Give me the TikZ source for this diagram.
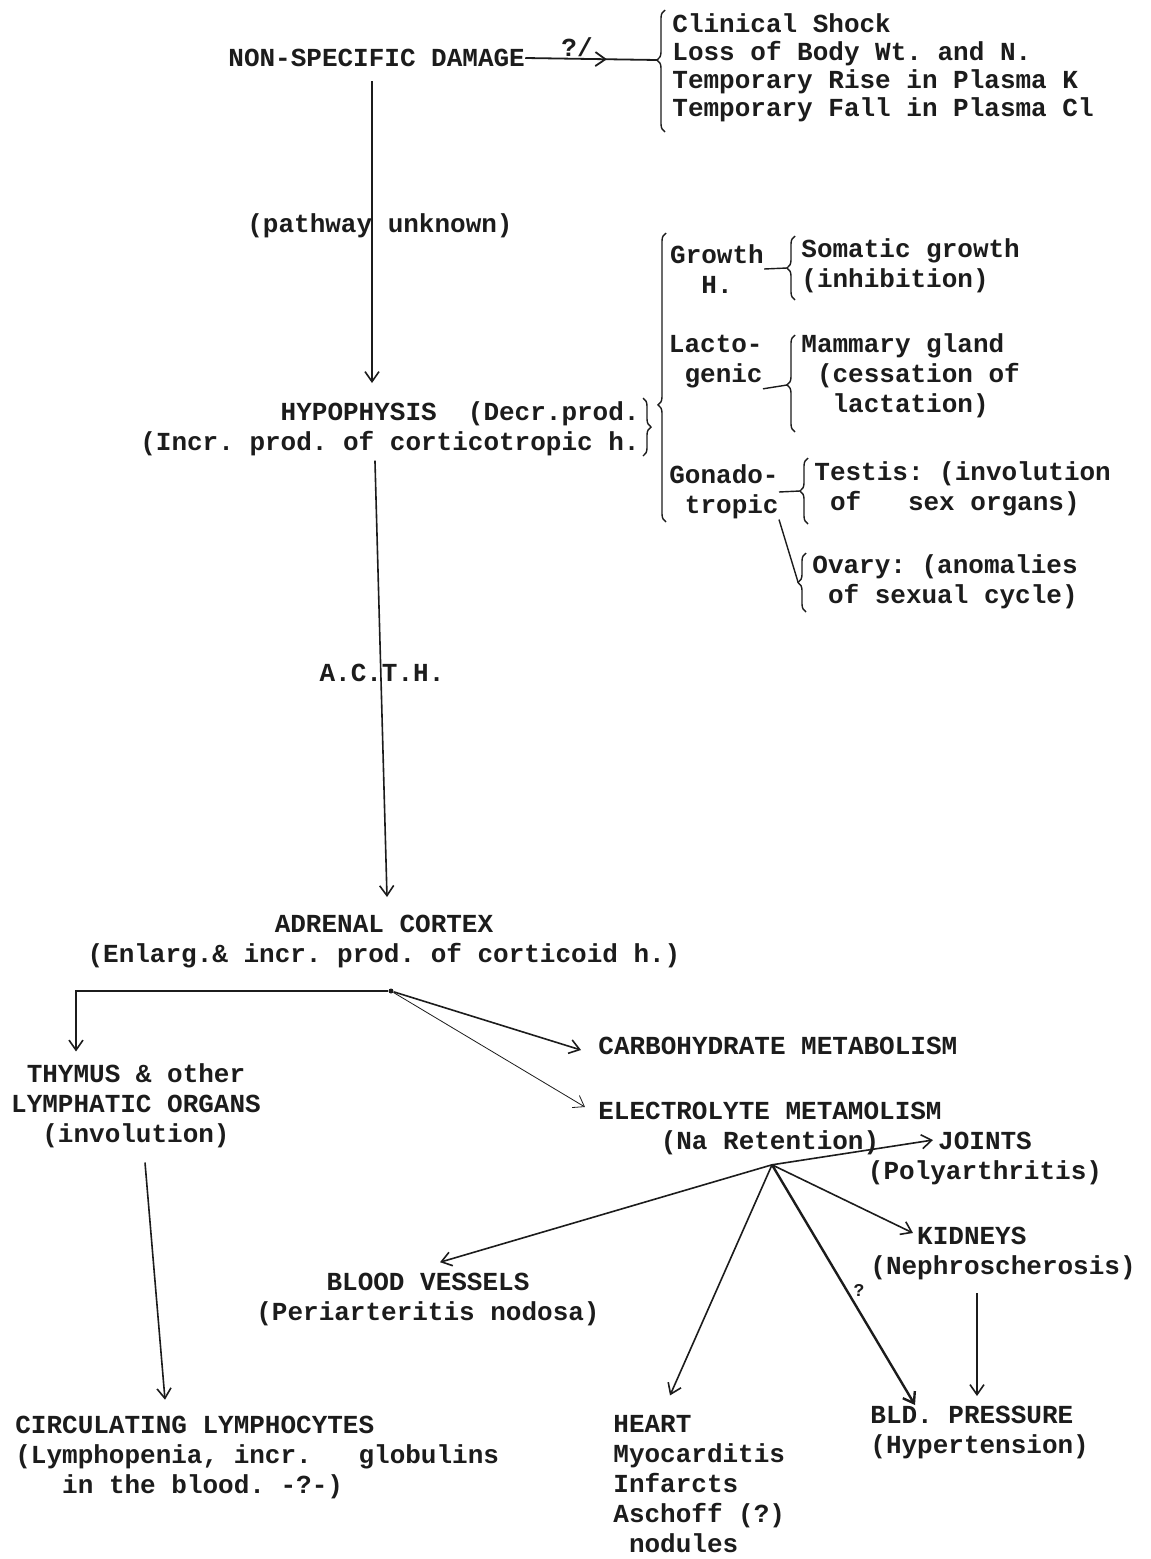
\documentclass[tikz,border=0pt]{standalone}
\usepackage{fontspec}
\setmonofont{Liberation Mono}
\usetikzlibrary{arrows.meta, calc, decorations.pathreplacing, decorations.markings}
\definecolor{ink}{HTML}{1C1C1C}
\newcommand{\twfont}{\ttfamily\bfseries\fontsize{13pt}{15pt}\selectfont}
\frenchspacing

\begin{document}
\begin{tikzpicture}[
        x                 = 0.5pt,
        y                 = -0.5pt,
        every node/.style = {font=\twfont, text=ink, inner sep=0pt},
        lft/.style        = {align=left, anchor=west},
        ctr/.style        = {align=center},
        rgt/.style        = {align=right, anchor=east},
        arr/.style        = {draw=ink, line width=0.8pt, -{Straight Barb[length=5pt, width=7pt]}},
        link/.style       = {draw=ink, line width=0.7pt},
        curly/.style      = {draw=ink, line width=0.7pt, decorate, decoration={brace, amplitude=4pt, aspect=#1}},
        curly/.default    = 0.5,
        dot/.style        = {circle, fill=ink, minimum size=2.5pt},
        midarrow/.style   = {postaction={decorate}, decoration={markings,
                             mark=at position #1 with {\arrow{Straight Barb[length=5pt, width=7pt]}}}},
    ]
    \fill[white] (0,0) rectangle (1151,1559);
    \useasboundingbox (0,0) rectangle (1151,1559);

    % damage and its direct effects
    \node[lft] (dmg) at (228, 58) {NON-SPECIFIC DAMAGE};
    \node[lft, font=\twfont\fontsize{13pt}{14pt}\selectfont] (eff) at (672, 68)
        {Clinical Shock\\Loss of Body Wt. and N.\\Temporary Rise in Plasma K\\Temporary Fall in Plasma Cl};
    \draw[curly=0.59] (665, 132) -- (665, 10);
    \coordinate (effTip) at (657, 60);
    \draw[link, line width=0.9pt, midarrow=0.62] (dmg.east) -- (effTip);
    \node (qm) at (577, 47) {?/};

    \node (pathway) at (380, 226) {(pathway unknown)};
    \coordinate (hypoIn) at (372, 383);
    \draw[arr] ($(dmg.south -| hypoIn)+(0,14)$) -- (hypoIn);

    % hypophysis and its hormones
    \node[rgt] (hypo) at (640, 429) {HYPOPHYSIS~~(Decr.prod.\\(Incr. prod. of corticotropic h.};
    \draw[curly] (643, 398) -- (643, 456);
    \draw[curly=0.405] (666, 522) -- (666, 233);

    \node[ctr] (growth) at (717, 269) {Growth\\H.};
    \node[lft] (som) at (801, 266) {Somatic growth\\(inhibition)};
    \draw[curly] (795, 300) -- (795, 236);
    \coordinate (somTip) at (787, 268);
    \draw[link] (growth.east) -- (somTip);

    \node[rgt] (lacto) at (763, 362) {Lacto-\\genic};
    \node[lft] (mam) at (801, 376) {Mammary gland\\\hphantom{x}(cessation of\\\hphantom{xx}lactation)};
    \draw[curly=0.485] (795, 432) -- (795, 335);
    \coordinate (mamTip) at (787, 385);
    \draw[link] (lacto.south east) -- (mamTip);

    \node[rgt] (gon) at (779, 492) {Gonado-\\tropic};
    \node[lft] (tes) at (814, 489) {Testis:~(involution\\\hphantom{x}of~~~sex organs)};
    \draw[curly] (808, 524) -- (808, 458);
    \coordinate (tesTip) at (800, 491);
    \draw[link] (gon.east) -- (tesTip);

    \node[lft] (ov) at (812, 582) {Ovary:~(anomalies\\\hphantom{x}of sexual cycle)};
    \draw[curly] (806, 612) -- (806, 553);
    \coordinate (ovTip) at (798, 582);
    \draw[link] (gon.south east) -- (ovTip);

    % adrenal cortex
    \node (acth) at (382, 673) {A.C.T.H.};
    \coordinate (adrIn) at (387, 897);
    \draw[arr] ($(hypo.south)+(-15,4)$) -- (adrIn);
    \node[ctr] (adr) at (384, 942) {ADRENAL CORTEX\\(Enlarg.\& incr. prod. of corticoid h.)};
    \node[dot] (hub) at (391, 991) {};

    \node[ctr] (thy) at (136, 1106) {THYMUS \& other\\LYMPHATIC ORGANS\\(involution)};
    \draw[arr] (hub) -| ($(thy.north)+(-60,-12)$);
    \node[lft] (carbo) at (598, 1046) {CARBOHYDRATE METABOLISM};
    \draw[arr] (hub) -- ($(carbo.west)+(-17,4)$);
    \node[ctr] (elec) at (770, 1128) {ELECTROLYTE METAMOLISM\\(Na Retention)};
    \draw[arr, line width=0.4pt] (hub) -- ($(elec.west)+(-13,-21)$);

    % effects of electrolyte metabolism
    \coordinate (hub2) at ($(elec.south)+(2,10)$);
    \node[ctr] (jnt) at (985, 1158) {JOINTS\\(Polyarthritis)};
    \node[lft] (kid) at (870, 1253) {\hphantom{xxx}KIDNEYS\\(Nephroscherosis)};
    \node[lft] (bp) at (870, 1432) {BLD. PRESSURE\\(Hypertension)};
    \node[ctr] (bld) at (428, 1299) {BLOOD VESSELS\\(Periarteritis nodosa)};
    \node[lft] (heart) at (613, 1484.5) {HEART\\Myocarditis\\Infarcts\\Aschoff (?)\\\hphantom{x}nodules};
    \draw[arr] (hub2) -- ($(jnt.center)+(-52,-18)$);
    \draw[arr] (hub2) -- ($(kid.west)+(43,-20)$);
    \draw[arr] ($(kid.west)+(107,40)$) -- ($(bp.west)+(107,-36)$);
    \draw[arr, line width=1.2pt] (hub2) -- ($(bp.west)+(45,-27)$);
    \node[font=\twfont\fontsize{9pt}{10pt}\selectfont] (qbp) at (859, 1290) {?};
    \draw[arr] (hub2) -- ($(heart.north west)+(57,-20)$);
    \draw[arr] (hub2) -- ($(bld.north)+(12,-10)$);

    \node[lft] (circ) at (15, 1457.5) {CIRCULATING LYMPHOCYTES\\(Lymphopenia, incr.~~~globulins\\\hphantom{xxx}in the blood. -?-)};
    \draw[arr] ($(thy.south)+(9,14)$) -- ($(circ.north west)+(150,-16)$);
\end{tikzpicture}
\end{document}
